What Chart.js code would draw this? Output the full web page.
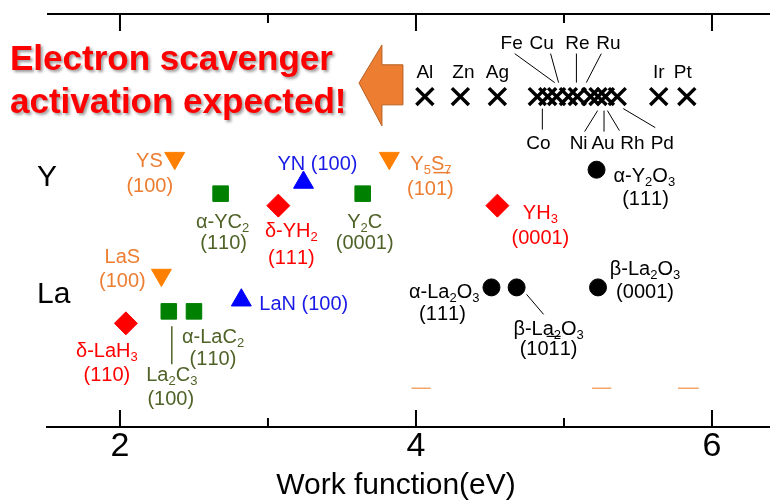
<!DOCTYPE html>
<html>
<head>
<meta charset="utf-8">
<script src="https://cdn.jsdelivr.net/npm/chart.js@4"></script>
<style>
  html, body { margin: 0; padding: 0; background: #fff; }
</style>
</head>
<body>
<canvas id="myChart" width="770" height="502"></canvas>
<script>
const FONT = "'Liberation Sans', Arial, sans-serif";

// work function (eV) for each surface, and the row (arbitrary height) it sits on
const metalNames = ['Al','Zn','Ag','Co','Fe','Cu','Re','Ru','Ni','Au','Rh','Pd','Ir','Pt'];
const metalWF    = [4.06,4.30,4.55,4.82,4.89,4.95,5.03,5.09,5.18,5.23,5.28,5.36,5.64,5.83];
const metalRow   = [8.0,8.0,8.0,8.0,8.0,8.0,8.0,8.0,8.0,8.0,8.0,8.0,8.0,8.0];

const sulfideNames = ['YS','LaS','Y5S7'];
const sulfideWF    = [2.37,2.28,3.82];
const sulfideRow   = [6.51,3.68,6.51];

const nitrideNames = ['YN','LaN'];
const nitrideWF    = [3.24,2.82];
const nitrideRow   = [5.92,3.07];

const carbideNames = ['aYC2','Y2C','La2C3','aLaC2'];
const carbideWF    = [2.68,3.64,2.33,2.50];
const carbideRow   = [5.65,5.65,2.80,2.80];

const hydrideNames = ['dYH2','YH3','dLaH3'];
const hydrideWF    = [3.07,4.55,2.04];
const hydrideRow   = [5.36,5.36,2.51];

const oxideNames = ['aY2O3','aLa2O3','bLa2O3_1011','bLa2O3_0001'];
const oxideWF    = [5.22,4.51,4.68,5.23];
const oxideRow   = [6.23,3.38,3.38,3.38];

const dashStart = [3.97,5.19,5.77];
const dashEnd   = [4.10,5.32,5.91];
const dashRow   = 0.94;

const xTicks = [2,3,4,5,6];
const rowLabels = ['Y','La'];
const rowLabelY = [6.04,3.21];

const ORANGE = '#FF8000', ORANGE_TXT = '#ED7D31';
const GREEN = '#008000', GREEN_TXT = '#4F6228';
const RED = '#FF0000', BLUE = '#0000FF', BLUE_TXT = '#1A1AE6';

// name -> point
const pts = {};
function addPts(names, wf, row){
  names.forEach((n, i) => { pts[n] = {x: wf[i], y: row[i]}; });
  return names.map((n, i) => ({x: wf[i], y: row[i]}));
}

// labels hung on the points: [point, text, dx, dy, align, colour]
const notes = [
  ['YS','YS',-12,3,'right',ORANGE_TXT], ['YS','(100)',-25,28,'center',ORANGE_TXT],
  ['LaS','LaS',-39,-18,'center',ORANGE_TXT], ['LaS','(100)',-39,6,'center',ORANGE_TXT],
  ['Y5S7','Y_5S_7',21,6,'left',ORANGE_TXT], ['Y5S7','(101)',41,31,'center',ORANGE_TXT],
  ['YN','YN (100)',-26,-18,'left',BLUE_TXT],
  ['LaN','LaN (100)',18,4,'left',BLUE_TXT],
  ['aYC2','α-YC_2',2,29,'center',GREEN_TXT], ['aYC2','(110)',3,50,'center',GREEN_TXT],
  ['Y2C','Y_2C',2,29,'center',GREEN_TXT], ['Y2C','(0001)',2,50,'center',GREEN_TXT],
  ['La2C3','La_2C_3',3,64,'center',GREEN_TXT], ['La2C3','(100)',2,88,'center',GREEN_TXT],
  ['aLaC2','α-LaC_2',-12,26,'left',GREEN_TXT], ['aLaC2','(110)',19,48,'center',GREEN_TXT],
  ['dYH2','δ-YH_2',13,26,'center',RED], ['dYH2','(111)',13,53,'center',RED],
  ['YH3','YH_3',43,8,'center',RED], ['YH3','(0001)',43,33,'center',RED],
  ['dLaH3','δ-LaH_3',-19,28,'center',RED], ['dLaH3','(110)',-19,52,'center',RED],
  ['aY2O3','α-Y_2O_3',17,7,'left','#000'], ['aY2O3','(111)',49,30,'center','#000'],
  ['aLa2O3','α-La_2O_3',-12,5,'right','#000'], ['aLa2O3','(111)',-49,27,'center','#000'],
  ['bLa2O3_1011','β-La_2O_3',32,42,'center','#000'], ['bLa2O3_1011','(1011)',32,62,'center','#000'],
  ['bLa2O3_0001','β-La_2O_3',47,-18,'center','#000'], ['bLa2O3_0001','(0001)',47,5,'center','#000'],
  // metals
  ['Al','Al',0,-24], ['Zn','Zn',3,-24], ['Ag','Ag',0,-24], ['Ir','Ir',0,-24], ['Pt','Pt',-4,-24],
  ['Fe','Fe',-36,-53], ['Cu','Cu',-15,-53], ['Re','Re',9,-53], ['Ru','Ru',31,-53],
  ['Co','Co',1,47], ['Ni','Ni',-12,47], ['Au','Au',5,47], ['Rh','Rh',27,47], ['Pd','Pd',45,47]
];
// leader lines and bars: [point, dx1, dy1, dx2, dy2, colour, width]
const leaders = [
  ['Fe',-33,-43,7,-14], ['Cu',-6,-43,2,-14], ['Re',8,-43,8,-14], ['Ru',24,-43,9,-14],
  ['Co',5,12,5,33], ['Ni',7,14,-6,35], ['Au',6,14,6,35], ['Rh',2,14,14,34], ['Pd',6,12,38,31],
  ['bLa2O3_1011',10,7,27,27],
  ['La2C3',3,15,3,53,GREEN_TXT,1.5],
  ['Y5S7',44,14.5,61,14.5,ORANGE_TXT,1.5],
  ['bLa2O3_1011',30,49,44,49,'#000',1.2]
];

function drawRich(ctx, str, x, y, size, color, align){
  const parts = [];
  for (let i = 0; i < str.length; i++) {
    if (str[i] === '_') { parts.push([str[i + 1], true]); i++; }
    else parts.push([str[i], false]);
  }
  const sub = Math.round(size * 0.65);
  let w = 0;
  parts.forEach(p => {
    ctx.font = (p[1] ? sub : size) + 'px ' + FONT;
    p.push(ctx.measureText(p[0]).width);
    w += p[2];
  });
  let cx = align === 'left' ? x : align === 'right' ? x - w : x - w / 2;
  ctx.fillStyle = color;
  ctx.textAlign = 'left';
  ctx.textBaseline = 'middle';
  parts.forEach(p => {
    ctx.font = (p[1] ? sub : size) + 'px ' + FONT;
    ctx.fillText(p[0], cx, p[1] ? y + size * 0.3 : y);
    cx += p[2];
  });
}

const notesPlugin = {
  id: 'notes',
  beforeDatasetsDraw(chart){
    const ctx = chart.ctx, xs = chart.scales.x, ys = chart.scales.y;
    const at = n => ({x: xs.getPixelForValue(pts[n].x), y: ys.getPixelForValue(pts[n].y)});
    ctx.save();
    leaders.forEach(l => {
      const p = at(l[0]);
      ctx.strokeStyle = l[5] || '#000';
      ctx.lineWidth = l[6] || 1;
      ctx.beginPath();
      ctx.moveTo(p.x + l[1], p.y + l[2]);
      ctx.lineTo(p.x + l[3], p.y + l[4]);
      ctx.stroke();
    });
    notes.forEach(n => {
      const p = at(n[0]);
      const metal = metalNames.includes(n[0]);
      drawRich(ctx, n[1], p.x + n[2], p.y + n[3], metal ? 19 : 20, n[5] || '#000', n[4] || 'center');
    });
    ctx.restore();
  },
  afterDraw(chart){
    const ctx = chart.ctx, xs = chart.scales.x, ys = chart.scales.y;
    const {left, right, top, bottom} = chart.chartArea;
    ctx.save();
    // top axis and inward ticks
    ctx.strokeStyle = '#000';
    ctx.lineWidth = 2;
    ctx.beginPath();
    ctx.moveTo(left, top); ctx.lineTo(right, top);
    xTicks.forEach(v => {
      const p = xs.getPixelForValue(v);
      const len = v % 2 === 0 ? 17 : 9;
      ctx.moveTo(p, bottom); ctx.lineTo(p, bottom - len);
      ctx.moveTo(p, top); ctx.lineTo(p, top + len);
    });
    ctx.stroke();

    // row names
    ctx.fillStyle = '#000';
    ctx.font = '30px ' + FONT;
    ctx.textAlign = 'left';
    ctx.textBaseline = 'middle';
    rowLabels.forEach((t, i) => ctx.fillText(t, left - 10, ys.getPixelForValue(rowLabelY[i])));

    // block arrow
    const A = [[3.615,8.33],[3.770,9.25],[3.770,8.77],[3.912,8.77],[3.912,7.80],[3.770,7.80],[3.770,7.29]];
    ctx.beginPath();
    A.forEach((q, i) => {
      const px = xs.getPixelForValue(q[0]), py = ys.getPixelForValue(q[1]);
      i ? ctx.lineTo(px, py) : ctx.moveTo(px, py);
    });
    ctx.closePath();
    ctx.fillStyle = '#ED7D31';
    ctx.fill();
    ctx.strokeStyle = '#B65F22';
    ctx.lineWidth = 1;
    ctx.stroke();

    // message
    ctx.font = 'bold 35px ' + FONT;
    ctx.fillStyle = '#FF0000';
    ctx.textBaseline = 'alphabetic';
    ctx.shadowColor = 'rgba(0,0,0,0.4)';
    ctx.shadowOffsetX = 2;
    ctx.shadowOffsetY = 2;
    ctx.shadowBlur = 3;
    ctx.fillText('Electron scavenger', 10, 70);
    ctx.fillText('activation expected!', 10, 113);
    ctx.restore();
  }
};

const dashData = [];
dashStart.forEach((s, i) => {
  dashData.push({x: s, y: dashRow}, {x: dashEnd[i], y: dashRow}, {x: dashEnd[i], y: null});
});

const ctx = document.getElementById('myChart');
new Chart(ctx, {
  type: 'scatter',
  data: {
    datasets: [
      {data: addPts(metalNames, metalWF, metalRow), pointStyle: 'crossRot', pointRadius: 12,
       borderColor: '#000', borderWidth: 3.5, backgroundColor: '#000'},
      {data: addPts(sulfideNames, sulfideWF, sulfideRow), pointStyle: 'triangle', rotation: 180, pointRadius: 11.5,
       borderColor: ORANGE, backgroundColor: ORANGE, borderWidth: 1},
      {data: addPts(nitrideNames, nitrideWF, nitrideRow), pointStyle: 'triangle', pointRadius: 11.5,
       borderColor: BLUE, backgroundColor: BLUE, borderWidth: 1},
      {data: addPts(carbideNames, carbideWF, carbideRow), pointStyle: 'rect', pointRadius: 11,
       borderColor: GREEN, backgroundColor: GREEN, borderWidth: 1},
      {data: addPts(hydrideNames, hydrideWF, hydrideRow), pointStyle: 'rectRot', pointRadius: 11.5,
       borderColor: RED, backgroundColor: RED, borderWidth: 1},
      {data: addPts(oxideNames, oxideWF, oxideRow), pointStyle: 'circle', pointRadius: 8.5,
       borderColor: '#000', backgroundColor: '#000', borderWidth: 1},
      {data: dashData, showLine: true, spanGaps: false, pointRadius: 0,
       borderColor: '#F5A56A', borderWidth: 1.5}
    ]
  },
  options: {
    responsive: false,
    animation: false,
    devicePixelRatio: 1,
    layout: {autoPadding: false, padding: {left: 47, top: 14, right: 0, bottom: 0}},
    plugins: {legend: {display: false}, tooltip: {enabled: false}},
    scales: {
      x: {
        type: 'linear', min: 1.507, max: 6.392,
        afterBuildTicks: s => { s.ticks = xTicks.map(v => ({value: v})); },
        grid: {display: false, drawTicks: false},
        border: {display: true, color: '#000', width: 2},
        ticks: {font: {family: FONT, size: 34, lineHeight: 1}, color: '#000', padding: 3,
                callback: v => v % 2 === 0 ? v : ''},
        // trailing spaces nudge the centred title a little to the left, as in the original
        title: {display: true, text: 'Work function(eV)   ', color: '#000',
                font: {family: FONT, size: 30, lineHeight: 1}, padding: {top: 4, bottom: 1}}
      },
      y: {display: false, min: 0, max: 10}
    }
  },
  plugins: [notesPlugin]
});
</script>
</body>
</html>
